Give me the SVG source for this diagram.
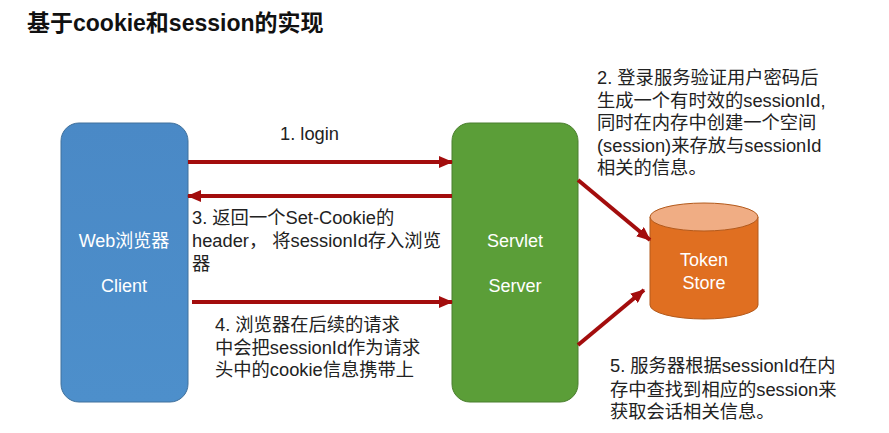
<svg xmlns="http://www.w3.org/2000/svg" width="889" height="433" viewBox="0 0 889 433">
<defs>
<style>
.t{font-family:"Liberation Sans","Noto Sans CJK SC",sans-serif;font-size:18.3px;fill:#222}
.w{font-family:"Liberation Sans","Noto Sans CJK SC",sans-serif;font-size:18px;fill:#fff;text-anchor:middle}
.c{stroke:#a30d0d;stroke-width:4;fill:none}
</style>
<marker id="ah" markerUnits="userSpaceOnUse" markerWidth="14" markerHeight="12" refX="13" refY="6" orient="auto">
<path d="M0,0 L14,6 L0,12 Z" fill="#a30d0d"/>
</marker>
<linearGradient id="gb" x1="0" y1="0" x2="0" y2="1">
<stop offset="0" stop-color="#4a89c6"/><stop offset="1" stop-color="#4d8fcb"/>
</linearGradient>
</defs>
<rect width="889" height="433" fill="#fff"/>
<text x="27" y="31" style="font-family:'Liberation Sans','Noto Sans CJK SC',sans-serif;font-size:23px;font-weight:bold;fill:#111">基于cookie和session的实现</text>
<g id="client">
<rect x="61" y="123" width="127" height="279" rx="18" fill="url(#gb)" stroke="#41719c" stroke-width="1"/>
<text class="w" x="124" y="247">Web浏览器</text>
<text class="w" x="124" y="292">Client</text>
</g>
<g id="server">
<rect x="452" y="123" width="126" height="279" rx="18" fill="#5b9e38" stroke="#4b7f2f" stroke-width="1"/>
<text class="w" x="515" y="247">Servlet</text>
<text class="w" x="515" y="292">Server</text>
</g>
<g id="store">
<path d="M650,217 L650,305 A54,14 0 0 0 758,305 L758,217" fill="#e06f21" stroke="#b35a1c" stroke-width="1"/>
<ellipse cx="704" cy="217" rx="54" ry="14" fill="#f0ad84" stroke="#b35a1c" stroke-width="1"/>
<text class="w" x="704" y="266">Token</text>
<text class="w" x="704" y="289">Store</text>
</g>
<g id="connectors">
<line class="c" x1="188" y1="162" x2="452" y2="162" marker-end="url(#ah)"/>
<line class="c" x1="452" y1="196" x2="188" y2="196" marker-end="url(#ah)"/>
<line class="c" x1="192" y1="302" x2="452" y2="302" marker-end="url(#ah)"/>
<line class="c" x1="578" y1="180" x2="650" y2="240" marker-end="url(#ah)"/>
<line class="c" x1="578" y1="345" x2="644" y2="290" marker-end="url(#ah)"/>
</g>
<g id="labels">
<text class="t" x="280" y="140">1. login</text>
<text class="t" x="597" y="84">2. 登录服务验证用户密码后</text>
<text class="t" x="597" y="107">生成一个有时效的sessionId,</text>
<text class="t" x="597" y="129">同时在内存中创建一个空间</text>
<text class="t" x="597" y="152">(session)来存放与sessionId</text>
<text class="t" x="597" y="174">相关的信息。</text>
<text class="t" x="192" y="224">3. 返回一个Set-Cookie的</text>
<text class="t" x="192" y="247">header， 将sessionId存入浏览</text>
<text class="t" x="192" y="270">器</text>
<text class="t" x="215" y="331">4. 浏览器在后续的请求</text>
<text class="t" x="215" y="354">中会把sessionId作为请求</text>
<text class="t" x="215" y="376">头中的cookie信息携带上</text>
<text class="t" x="610" y="372">5. 服务器根据sessionId在内</text>
<text class="t" x="610" y="396">存中查找到相应的session来</text>
<text class="t" x="610" y="418">获取会话相关信息。</text>
</g>
</svg>
